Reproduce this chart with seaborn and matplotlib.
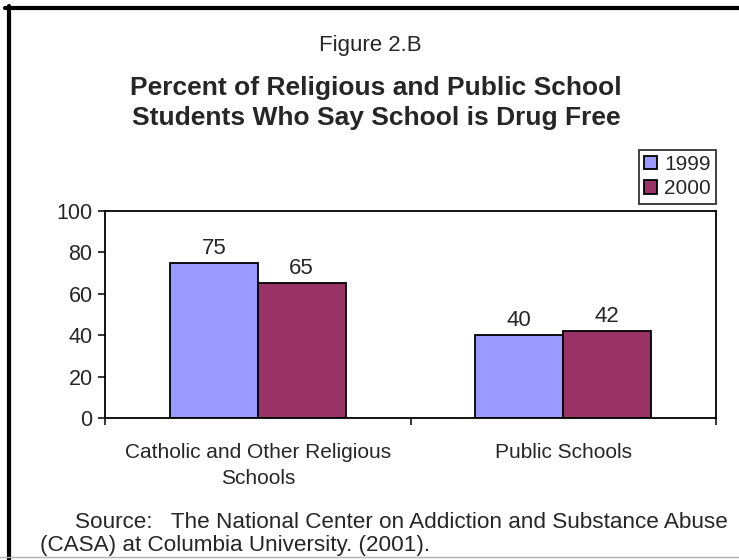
import numpy as np
import pandas as pd
import matplotlib
matplotlib.use("Agg")
import matplotlib.pyplot as plt
import seaborn as sns
from matplotlib.lines import Line2D

# data
schools = ["Catholic and Other Religious\nSchools", "Public Schools"]
years = ["1999", "2000"]
pct_1999 = [75, 40]
pct_2000 = [65, 42]
yticks = [0, 20, 40, 60, 80, 100]

df = pd.DataFrame({
    "school": schools * 2,
    "year": [years[0]] * 2 + [years[1]] * 2,
    "pct": pct_1999 + pct_2000,
})

sns.set_style("white")
plt.rcParams["font.family"] = ["Liberation Sans", "DejaVu Sans"]

W, H = 739, 560
fig = plt.figure(figsize=(W / 100, H / 100), dpi=100)
ax = fig.add_axes([105 / W, 1 - 418 / H, (716 - 105) / W, (418 - 211) / H])

sns.barplot(data=df, x="school", y="pct", hue="year",
            palette=["#9999FF", "#993366"], saturation=1, edgecolor="black",
            linewidth=1.3, width=0.576, ax=ax)

# value labels above bars
for cont in ax.containers:
    ax.bar_label(cont, fmt="%g", padding=3, fontsize=16)

ax.set_ylim(0, 100)
ax.set_xlim(-0.5, 1.5)
ax.set_yticks(yticks)
ax.set_xlabel("")
ax.set_ylabel("")
ax.tick_params(axis="y", labelsize=15.5, length=5, width=1.3, direction="out",
               left=True, pad=4)
# x ticks sit between categories, labels centred on the groups
ax.set_xticks([-0.5, 0.5, 1.5])
ax.set_xticklabels([])
ax.tick_params(axis="x", length=5, width=1.3, direction="out", bottom=True)
for i, s in enumerate(schools):
    ax.annotate(s, xy=(i, 0), xycoords=("data", "axes fraction"),
                xytext=(0, -18), textcoords="offset points",
                ha="center", va="top", fontsize=15, linespacing=1.5)

for sp in ax.spines.values():
    sp.set_visible(True)
    sp.set_color("black")
    sp.set_linewidth(1.3)

leg = ax.legend(bbox_to_anchor=(716 / W, 1 - 150 / H), loc="upper right",
                bbox_transform=fig.transFigure, frameon=True, fancybox=False,
                edgecolor="black", fontsize=15, handlelength=0.6,
                handleheight=0.6, handletextpad=0.35, borderpad=0.25,
                labelspacing=0.25, borderaxespad=0)
leg.get_frame().set_linewidth(1.3)
leg.set_title(None)

# titles
fig.text(370 / W, 1 - 45 / H, "Figure 2.B", ha="center", va="center", fontsize=16)
fig.text(376 / W, 1 - 103 / H,
         "Percent of Religious and Public School\nStudents Who Say School is Drug Free",
         ha="center", va="center", fontsize=19, fontweight="bold",
         linespacing=1.3)

# source note
fig.text(75 / W, 1 - 522 / H,
         "Source:   The National Center on Addiction and Substance Abuse",
         ha="left", va="center", fontsize=16.2)
fig.text(40 / W, 1 - 545 / H, "(CASA) at Columbia University. (2001).",
         ha="left", va="center", fontsize=16.2)

# page frame
fig.add_artist(Line2D([9 / W, 9 / W], [0, 1 - 6 / H], color="black",
                      lw=3, transform=fig.transFigure))
fig.add_artist(Line2D([5 / W, 1], [1 - 8 / H, 1 - 8 / H], color="black",
                      lw=3, transform=fig.transFigure))
fig.add_artist(Line2D([0, 1], [1 - 557 / H, 1 - 557 / H], color="#b0b0b0",
                      lw=1, transform=fig.transFigure))

fig.savefig("out.png", dpi=100)
